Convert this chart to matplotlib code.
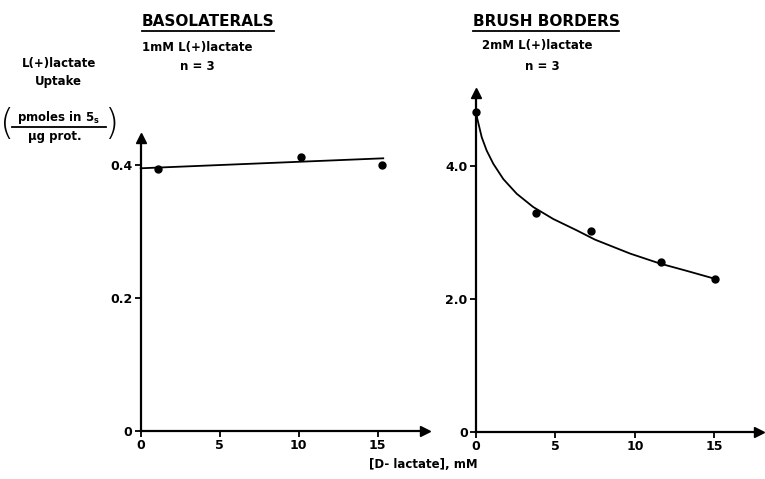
import matplotlib
matplotlib.use("Agg")
import matplotlib.pyplot as plt
from matplotlib.lines import Line2D

plt.rcParams["font.family"] = ["DejaVu Sans"]
plt.rcParams["font.weight"] = "bold"
plt.rcParams["mathtext.fontset"] = "dejavusans"

# basolateral membranes, 1 mM L(+)lactate
bl_x = [1.1, 10.15, 15.3]
bl_y = [0.393, 0.412, 0.399]
bl_fit_x = [0, 15.35]
bl_fit_y = [0.3946, 0.4096]

# brush border membranes, 2 mM L(+)lactate
bb_x = [0, 3.77, 7.21, 11.62, 15.03]
bb_y = [4.81, 3.29, 3.02, 2.56, 2.30]
bb_fit_x = [0, 0.08, 0.36, 0.67, 1.09, 1.72, 2.56, 3.60, 4.86, 6.33, 7.48,
            9.69, 11.57, 13.25, 15.03]
bb_fit_y = [4.81, 4.71, 4.43, 4.23, 4.03, 3.80, 3.58, 3.38, 3.20, 3.03, 2.89,
            2.68, 2.53, 2.42, 2.30]

x_ticks = [0, 5, 10, 15]
bl_yticks = [0, 0.2, 0.4]
bl_yticklabels = ["0", "0.2", "0.4"]
bb_yticks = [0, 2.0, 4.0]
bb_yticklabels = ["0", "2.0", "4.0"]

W, H = 765, 479
fig = plt.figure(figsize=(W / 100, H / 100), dpi=100)


def px(x, y):
    # pixel position (from top-left) -> figure fraction
    return x / W, 1 - y / H


ax1 = fig.add_axes([140.7 / W, 48.3 / H, 284.4 / W, 292.6 / H])
ax2 = fig.add_axes([476 / W, 47.3 / H, 283 / W, 339 / H])


def style(ax, xmax, ymax, yticks, yticklabels):
    ax.set_xlim(0, xmax)
    ax.set_ylim(0, ymax)
    for s in ["top", "right"]:
        ax.spines[s].set_visible(False)
    for s in ["bottom", "left"]:
        ax.spines[s].set_linewidth(1.6)
    ax.set_xticks(x_ticks)
    ax.set_yticks(yticks)
    ax.set_yticklabels(yticklabels)
    ax.tick_params(direction="out", length=4.5, width=1.3, labelsize=9, pad=1.5)
    ax.plot(1, 0, ">k", ms=7, transform=ax.get_yaxis_transform(), clip_on=False)
    ax.plot(0, 1, "^k", ms=7, transform=ax.get_xaxis_transform(), clip_on=False)
    ax.patch.set_alpha(0)


style(ax1, 18, 0.44, bl_yticks, bl_yticklabels)
style(ax2, 17.8, 5.1, bb_yticks, bb_yticklabels)

ax1.plot(bl_fit_x, bl_fit_y, color="black", lw=1.3, clip_on=False)
ax1.plot(bl_x, bl_y, "o", color="black", ms=5, clip_on=False)
ax2.plot(bb_fit_x, bb_fit_y, color="black", lw=1.3, clip_on=False)
ax2.plot(bb_x, bb_y, "o", color="black", ms=5, clip_on=False, zorder=5)

titles = []
titles.append(fig.text(*px(208, 21), "BASOLATERALS", ha="center", va="center", fontsize=11))
titles.append(fig.text(*px(546, 21), "BRUSH BORDERS", ha="center", va="center", fontsize=11))
fig.text(*px(197, 47), "1mM L(+)lactate", ha="center", va="center", fontsize=8.5)
fig.text(*px(197, 67), "n = 3", ha="center", va="center", fontsize=8.5)
fig.text(*px(537, 45), "2mM L(+)lactate", ha="center", va="center", fontsize=8.5)
fig.text(*px(542, 66), "n = 3", ha="center", va="center", fontsize=8.5)

# y-axis label, drawn as a stacked fraction in parentheses
fig.text(*px(59, 64), "L(+)lactate", ha="center", va="center", fontsize=8.5)
fig.text(*px(58, 82), "Uptake", ha="center", va="center", fontsize=8.5)
fig.text(*px(59, 118), r"pmoles in 5$_\mathbf{s}$", ha="center", va="center", fontsize=8.5)
fig.text(*px(55, 137), "\u00b5g prot.", ha="center", va="center", fontsize=8.5)
fig.add_artist(Line2D([12 / W, 106 / W], [1 - 127 / H] * 2, color="black", lw=1.3,
                      transform=fig.transFigure))
fig.text(*px(7, 124), "(", ha="center", va="center", fontsize=26, fontweight="light")
fig.text(*px(111, 124), ")", ha="center", va="center", fontsize=26, fontweight="light")

fig.text(*px(423, 465), "[D- lactate], mM", ha="center", va="center", fontsize=8.5)

fig.canvas.draw()
r = fig.canvas.get_renderer()
for t in titles:
    bb = t.get_window_extent(renderer=r)
    y = bb.y0 - 2
    fig.add_artist(Line2D([bb.x0 / W, bb.x1 / W], [y / H, y / H],
                          color="black", lw=1.3, transform=fig.transFigure))

fig.savefig("out.png", dpi=100)
